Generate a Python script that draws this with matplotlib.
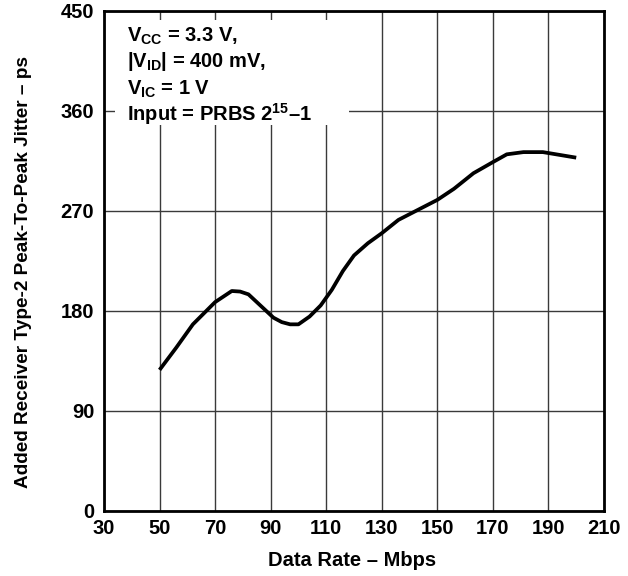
import matplotlib
matplotlib.use("Agg")
import matplotlib.pyplot as plt
from matplotlib.patches import Rectangle

plt.rcParams['font.family'] = ['Liberation Sans', 'DejaVu Sans']
plt.rcParams['font.weight'] = 'bold'
plt.rcParams['mathtext.fontset'] = 'custom'
plt.rcParams['mathtext.rm'] = 'Liberation Sans:bold'
plt.rcParams['mathtext.it'] = 'Liberation Sans:bold'
plt.rcParams['mathtext.bf'] = 'Liberation Sans:bold'

# Data (Data Rate in Mbps vs added jitter in ps)
data_rate = [50, 56, 62, 66, 70, 73, 76, 79, 82, 85, 88, 91, 94, 97, 100,
             104, 108, 112, 116, 120, 125, 130, 136, 143, 150, 156, 163,
             170, 175, 181, 188, 194, 200]
jitter = [127, 147, 168, 178, 188, 193, 198, 197.5, 195, 188, 181, 174, 170,
          168, 168, 175, 185, 199, 216, 230, 241, 250, 262, 271, 280, 290,
          304, 314, 321, 323, 323, 320.5, 318]

x_ticks = [30, 50, 70, 90, 110, 130, 150, 170, 190, 210]
y_ticks = [0, 90, 180, 270, 360, 450]
x_label = "Data Rate \u2013 Mbps"
y_label = "Added Receiver Type-2 Peak-To-Peak Jitter \u2013 ps"
note_lines = [r"$\mathrm{V_{CC}}$ = 3.3 V,",
              r"|$\mathrm{V_{ID}}$| = 400 mV,",
              r"$\mathrm{V_{IC}}$ = 1 V",
              "Input = PRBS 2$^{15}$\u20131"]

W, H = 628, 576
fig = plt.figure(figsize=(W / 100, H / 100), dpi=100)
ax = fig.add_axes([104 / W, 1 - 511 / H, 500 / W, 500 / H])

ax.plot(data_rate, jitter, color='black', linewidth=2.7, solid_capstyle='butt',
        zorder=3)

ax.set_xlim(30, 210)
ax.set_ylim(0, 450)
ax.set_xticks(x_ticks)
ax.set_yticks(y_ticks)
ax.set_axisbelow(True)
ax.grid(True, color='#3a3a3a', linewidth=1.0)
ax.tick_params(length=0, labelsize=14.5)
ax.tick_params(axis='x', pad=5.5)
ax.tick_params(axis='y', pad=7)
for lab in ax.get_xticklabels() + ax.get_yticklabels():
    lab.set_fontweight('bold')
for s in ax.spines.values():
    s.set_linewidth(2.0)
    s.set_zorder(5)

# white box behind the annotation
ax.add_patch(Rectangle((11 / 500, (511 - 125) / 500), 234 / 500, 105 / 500,
                       transform=ax.transAxes, facecolor='white',
                       edgecolor='none', zorder=2))
bases = [42, 67, 95, 121]
for i, line in enumerate(note_lines):
    fig.text(127 / W, 1 - bases[i] / H, line, fontsize=14.5, fontweight='bold',
             ha='left', va='baseline', zorder=6)

fig.text(352 / W, 1 - 561 / H, x_label, fontsize=14.5, fontweight='bold',
         ha='center', va='center')
fig.text(24 / W, 1 - 272 / H, y_label, fontsize=13.7, fontweight='bold',
         ha='center', va='center', rotation=90)

fig.savefig("out.png", dpi=100)
